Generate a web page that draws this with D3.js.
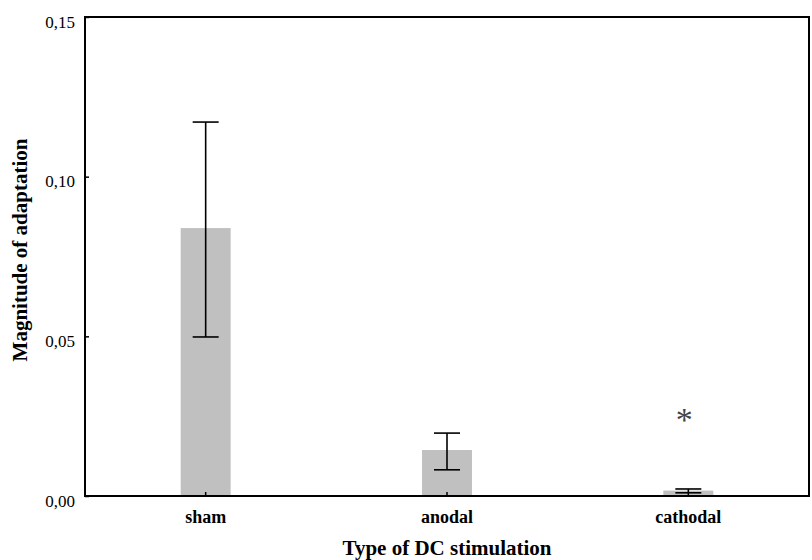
<!DOCTYPE html>
<html><head><meta charset="utf-8">
<script src="https://cdn.jsdelivr.net/npm/d3@7"></script>
<style>body{margin:0;background:#fff}</style>
</head><body>
<svg id="c" width="812" height="560"></svg>
<script>
const categories = ["sham", "anodal", "cathodal"];
const means = [0.0839, 0.0144, 0.0017];
const errLow = [0.0498, 0.0082, 0.0010];
const errHigh = [0.1171, 0.0197, 0.0022];
const yTicks = [0, 0.05, 0.10, 0.15];
const yTickLabels = ["0,00", "0,05", "0,10", "0,15"];
const significant = [false, false, true];

const svg = d3.select("#c");
const m = {l: 85, t: 17, r: 3, b: 64};
const W = 812, H = 560;
const x = d3.scaleBand().domain(categories).range([m.l, W - m.r]).paddingInner(0.793).paddingOuter(0.3965);
const y = d3.scaleLinear().domain([0, 0.15]).range([H - m.b, m.t]);
const font = "'Liberation Serif', 'Times New Roman', serif";

// bars
svg.selectAll("rect.bar").data(categories).enter().append("rect")
  .attr("x", d => x(d)).attr("width", x.bandwidth())
  .attr("y", (d, i) => y(means[i])).attr("height", (d, i) => y(0) - y(means[i]))
  .attr("fill", "#c0c0c0");

// error bars
const cap = 13;
categories.forEach((c, i) => {
  const cx = x(c) + x.bandwidth() / 2;
  const g = svg.append("g").attr("stroke", "#000").attr("stroke-width", 1.6);
  g.append("line").attr("x1", cx).attr("x2", cx).attr("y1", y(errLow[i])).attr("y2", y(errHigh[i]));
  g.append("line").attr("x1", cx - cap).attr("x2", cx + cap).attr("y1", y(errLow[i])).attr("y2", y(errLow[i]));
  g.append("line").attr("x1", cx - cap).attr("x2", cx + cap).attr("y1", y(errHigh[i])).attr("y2", y(errHigh[i]));
  if (significant[i]) {
    svg.append("text").attr("x", cx - 4).attr("y", y(0.0255) + 16).attr("text-anchor", "middle")
      .attr("font-family", font).attr("font-size", 34).attr("fill", "#444").text("*");
  }
});

// frame
svg.append("rect").attr("x", m.l).attr("y", m.t).attr("width", W - m.r - m.l).attr("height", H - m.b - m.t)
  .attr("fill", "none").attr("stroke", "#000").attr("stroke-width", 2);

// y axis
const ya = svg.append("g").attr("transform", `translate(${m.l},0)`)
  .call(d3.axisRight(y).tickValues(yTicks).tickSize(4).tickFormat((d, i) => yTickLabels[i]));
ya.select(".domain").remove();
ya.selectAll("line").attr("stroke-width", 1.5);
ya.selectAll("text").attr("x", -10).attr("dy", "0.6em").attr("text-anchor", "end")
  .attr("font-family", font).attr("font-size", 17).attr("fill", "#000");

// x axis
const xa = svg.append("g").attr("transform", `translate(0,${H - m.b})`)
  .call(d3.axisTop(x).tickSize(4));
xa.select(".domain").remove();
xa.selectAll("line").attr("stroke-width", 1.5);
xa.selectAll("text").attr("y", 27).attr("dy", "0")
  .attr("font-family", font).attr("font-size", 18).attr("font-weight", "bold").attr("fill", "#000");

// titles
svg.append("text").attr("x", (m.l + W - m.r) / 2).attr("y", 555).attr("text-anchor", "middle")
  .attr("font-family", font).attr("font-size", 21).attr("font-weight", "bold").text("Type of DC stimulation");
svg.append("text").attr("transform", `translate(27,250) rotate(-90)`).attr("text-anchor", "middle")
  .attr("font-family", font).attr("font-size", 21).attr("font-weight", "bold").text("Magnitude of adaptation");
</script>
</body></html>
